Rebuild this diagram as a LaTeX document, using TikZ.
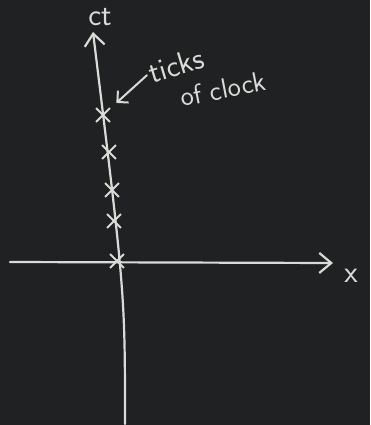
\documentclass[tikz,border=0pt]{standalone}
\usepackage{fontspec}
\usepackage{xcolor}
\usepackage{tikz}
\usetikzlibrary{arrows.meta, shapes.misc}
\definecolor{boardcolor}{RGB}{32, 33, 35}
\definecolor{chalkcolor}{RGB}{218, 218, 215}

\begin{document}
\begin{tikzpicture}[
  x=1pt, y=-1pt,
  font=\sffamily\fontsize{31}{33}\selectfont,
  chalk/.style={draw=chalkcolor, line width=2.2pt, line cap=round},
  axisarrow/.style={chalk, -{Straight Barb[length=12pt, width=20pt, line width=2.2pt]}},
  pointer/.style={chalk, line width=2pt, -{Straight Barb[length=8pt, width=16pt, line width=2pt]}},
  clocktick/.style={draw=chalkcolor, cross out, line width=1.8pt, minimum size=12pt, inner sep=0pt},
  chalktext/.style={text=chalkcolor, inner sep=0pt}
]
\fill[boardcolor] (0,0) rectangle (370,425);
\useasboundingbox (0,0) rectangle (370,425);

% axes
\coordinate (xleft) at (10,262);
\coordinate (xright) at (333,263);
\coordinate (ybottom) at (125,424);
\coordinate (ytop) at (93,32);
\draw[axisarrow] (xleft) -- (xright);
\draw[axisarrow] (ybottom) .. controls (125,293) .. (ytop);

\node[chalktext] (ctlabel) at (100,17) {ct};
\node[chalktext] (xlabel) at (351,276) {x};

% clock ticks on the ct axis
\foreach \n/\px/\py in {0/117/261, 1/114/221, 2/112/190, 3/109/152, 4/103/115}
  \node[clocktick] (t\n) at (\px,\py) {};

\node[chalktext, rotate=17] (ticks) at (176,65) {ticks};
\node[chalktext, rotate=11, font=\sffamily\fontsize{28}{30}\selectfont] (ofclock) at (223,89) {of clock};
\draw[pointer, shorten <=3pt, shorten >=18pt] (ticks.west) -- (t4.center);
\end{tikzpicture}
\end{document}
